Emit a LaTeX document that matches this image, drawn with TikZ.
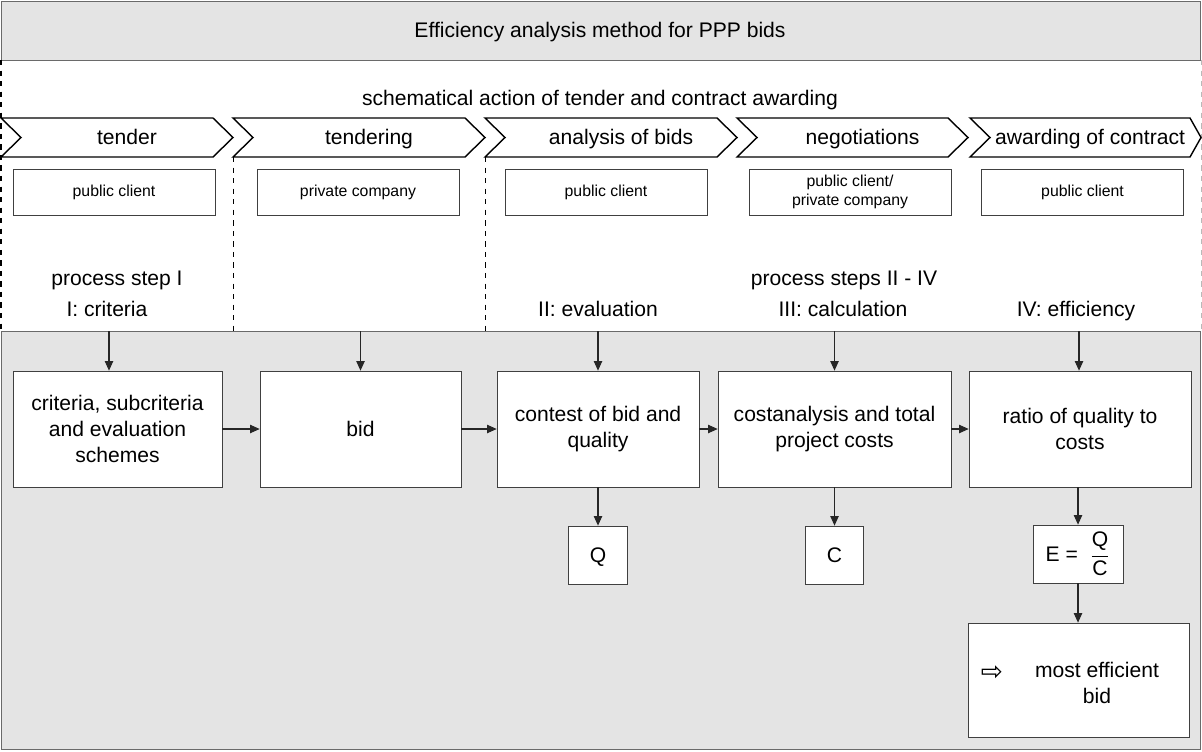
\documentclass[tikz,border=0pt]{standalone}
\usepackage{fontspec}
\setmainfont{Liberation Sans}
\newfontfamily\symbolfont{DejaVu Sans}
\usetikzlibrary{arrows.meta}
\definecolor{panelgray}{HTML}{E4E4E4}
\definecolor{framegray}{HTML}{6A6A6A}

\begin{document}
\begin{tikzpicture}[x=0.02cm,y=-0.02cm,
    >={Triangle[length=5.5pt,width=4.8pt]},
    every node/.style={inner sep=0pt},
    bigtext/.style={font=\fontsize{12}{15}\selectfont},
    smalltext/.style={font=\fontsize{9}{10.8}\selectfont},
    bigbox/.style={bigtext,draw=black!75,fill=white,align=center,minimum height=2.32cm},
    smallbox/.style={smalltext,draw=black!75,fill=white,align=center,
        minimum width=4.04cm,minimum height=0.92cm},
    resultbox/.style={bigtext,draw=black!75,fill=white,align=center,minimum height=1.16cm},
    phase/.style={draw=black,fill=white,line width=0.8pt,line join=miter},
    flow/.style={->,draw=black!85,line width=0.6pt}]
\useasboundingbox (0,0) rectangle (1202,751);

% panels
\fill[panelgray] (1,1) rectangle (1200,749);
\fill[white] (1,60) rectangle (1200,331);
\draw[framegray] (1,1) rectangle (1200,60);
\draw[framegray] (1,331) rectangle (1200,749);
\draw[dashed,line width=0.9pt] (1,60) -- (1,331);
\draw[dashed,gray!55] (1201,60) -- (1201,331);

\node[bigtext,anchor=base] (title)  at (600,37)  {Efficiency analysis method for PPP bids};
\node[bigtext,anchor=base] (action) at (600,105) {schematical action of tender and contract awarding};

% phases
\foreach \l/\r/\d/\tx/\name/\txt in {1/233/20/127/tender/tender,
    233/485/20/369/tendering/tendering,
    485/737/20/621/analysis/analysis of bids,
    737/968/20/862.5/nego/negotiations,
    970/1201/11/1090/award/awarding of contract} {
  \draw[phase] (\l,118) -- (\r-\d,118) -- (\r,137.5) -- (\r-\d,157)
      -- (\l,157) -- (\l+20,137.5) -- cycle;
  \node[bigtext,anchor=base] (\name) at (\tx,144) {\txt};
}

\node[smallbox] (client1) at (114,192)    {public client};
\node[smallbox] (company) at (358,192)    {private company};
\node[smallbox] (client2) at (606,192)    {public client};
\node[smallbox] (both)    at (850,192)    {public client/\\private company};
\node[smallbox] (client3) at (1082.5,192) {public client};

\draw[dashed] (233,157) -- (233,331);
\draw[dashed] (485,157) -- (485,331);

\node[bigtext,anchor=base] (stepI)   at (117,285)  {process step I};
\node[bigtext,anchor=base] (critI)   at (107,316)  {I: criteria};
\node[bigtext,anchor=base] (stepsII) at (844,285)  {process steps II - IV};
\node[bigtext,anchor=base] (evalII)  at (598,316)  {II: evaluation};
\node[bigtext,anchor=base] (calcIII) at (843,316)  {III: calculation};
\node[bigtext,anchor=base] (effIV)   at (1076,316) {IV: efficiency};

\node[bigbox,minimum width=4.18cm] (criteria) at (117.5,429) {criteria, subcriteria\\and evaluation\\schemes};
\node[bigbox,minimum width=4.02cm] (bid)      at (360.5,429) {bid};
\node[bigbox,minimum width=4.04cm] (contest)  at (598,429)   {contest of bid and\\quality};
\node[bigbox,minimum width=4.66cm] (costs)    at (834.5,429) {costanalysis and total\\project costs};
\node[bigbox,minimum width=4.44cm] (ratio)    at (1080,429)  {ratio of quality to\\costs};

\foreach \x/\n in {109/criteria, 360.5/bid, 598/contest, 834.5/costs, 1079/ratio} {
  \coordinate (in-\n) at (\x,331);
  \draw[flow] (in-\n) -- (in-\n |- \n.north);
}
\draw[flow] (criteria) -- (bid);
\draw[flow] (bid) -- (contest);
\draw[flow] (contest) -- (costs);
\draw[flow] (costs) -- (ratio);

\node[resultbox,minimum width=1.18cm,text height=8.6pt,text depth=0pt] (Q) at (598,555)   {Q};
\node[resultbox,minimum width=1.16cm,text height=8.6pt,text depth=0pt] (C) at (834.5,555) {C};
\node[resultbox,minimum width=1.8cm] (E) at (1078,554) {E =\; $\displaystyle\frac{\mbox{Q}}{\mbox{C}}$};
\node[draw=black!75,fill=white,minimum width=4.42cm,minimum height=2.28cm] (best) at (1078.5,680) {};
\node[font=\symbolfont\fontsize{15}{15}\selectfont] (pointer) at (992,673) {⇨};
\node[bigtext,align=center] (bestlabel) at (1097,683) {most efficient\\bid};

\draw[flow] (contest) -- (Q);
\draw[flow] (costs) -- (C);
\draw[flow] (E.north |- ratio.south) -- (E.north);
\draw[flow] (E) -- (E.south |- best.north);
\end{tikzpicture}
\end{document}
